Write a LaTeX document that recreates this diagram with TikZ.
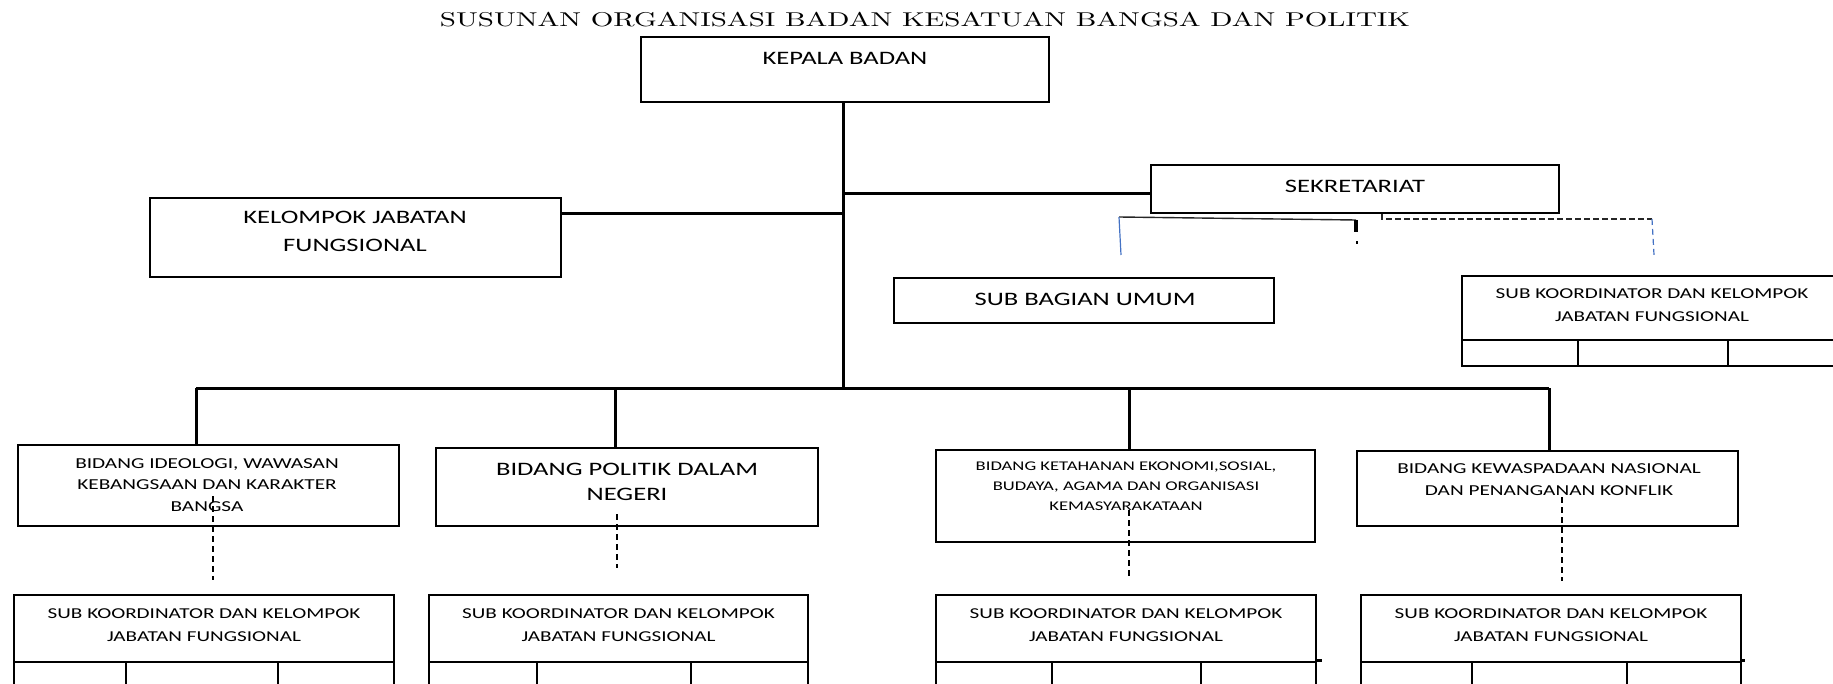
\documentclass[tikz,border=0pt]{standalone}
\usepackage{fontspec}
\newfontfamily\calfont{Carlito}
\usepackage{graphicx}
\newcommand\sx[1]{\scalebox{1.4}[1]{#1}}
\definecolor{wblue}{HTML}{4472C4}
\begin{document}
\begin{tikzpicture}[x=1pt,y=-1pt,
  box/.style={draw, rectangle, line width=2.6pt, inner sep=0pt, anchor=center},
  txt/.style={inner sep=0pt, align=center},
  bl/.style={line width=3pt},
  dsh/.style={line width=1.6pt, dash pattern=on 6pt off 4pt},
  thin/.style={line width=1.4pt, black!85},
  bthin/.style={line width=1.2pt, wblue}]
\useasboundingbox (0,0) rectangle (1833,684);
\clip (0,0) rectangle (1833,684);
\fill[white] (0,0) rectangle (1833,684);

% title
\node[txt] (title) at (925,19.5) {\resizebox{970pt}{14.3pt}{SUSUNAN ORGANISASI BADAN KESATUAN BANGSA DAN POLITIK}};

% boxes
\node[box, minimum width=408pt, minimum height=65pt] (kb) at (845,69.5) {};
\node[box, minimum width=408pt, minimum height=48pt] (sek) at (1355,189) {};
\node[box, minimum width=411pt, minimum height=79pt] (kjf) at (355.5,237.5) {};
\node[box, minimum width=380pt, minimum height=45pt] (sbu) at (1084,300.5) {};
% right sub koordinator
\node[box, minimum width=378pt, minimum height=64pt] (rsk) at (1651,308) {};
\node[box, minimum width=116pt, minimum height=26pt] (rc1) at (1520,353) {};
\node[box, minimum width=150pt, minimum height=26pt] (rc2) at (1653,353) {};
\node[box, minimum width=112pt, minimum height=26pt] (rc3) at (1784,353) {};
% bidang
\node[box, minimum width=381pt, minimum height=81pt] (b1) at (208.5,485.5) {};
\node[box, minimum width=382pt, minimum height=78pt] (b2) at (627,487) {};
\node[box, minimum width=379pt, minimum height=92pt] (b3) at (1125.5,496) {};
\node[box, minimum width=381pt, minimum height=75pt] (b4) at (1547.5,488.5) {};
% bottom sub koordinator
\node[box, minimum width=380pt, minimum height=67pt] (s1) at (204,628.5) {};
\node[box, minimum width=112pt, minimum height=58pt] (s1a) at (70,691) {};
\node[box, minimum width=152pt, minimum height=58pt] (s1b) at (202,691) {};
\node[box, minimum width=116pt, minimum height=58pt] (s1c) at (336,691) {};
\node[box, minimum width=379pt, minimum height=67pt] (s2) at (618.5,628.5) {};
\node[box, minimum width=108pt, minimum height=58pt] (s2a) at (483,691) {};
\node[box, minimum width=154pt, minimum height=58pt] (s2b) at (614,691) {};
\node[box, minimum width=117pt, minimum height=58pt] (s2c) at (749.5,691) {};
\node[box, minimum width=380pt, minimum height=67pt] (s3) at (1126,628.5) {};
\node[box, minimum width=116pt, minimum height=58pt] (s3a) at (994,691) {};
\node[box, minimum width=149pt, minimum height=58pt] (s3b) at (1126.5,691) {};
\node[box, minimum width=115pt, minimum height=58pt] (s3c) at (1258.5,691) {};
\node[box, minimum width=380pt, minimum height=67pt] (s4) at (1551,628.5) {};
\node[box, minimum width=111pt, minimum height=58pt] (s4a) at (1416.5,691) {};
\node[box, minimum width=155pt, minimum height=58pt] (s4b) at (1549.5,691) {};
\node[box, minimum width=114pt, minimum height=58pt] (s4c) at (1684,691) {};
\draw[line width=2.6pt] (s3c.north east) -- ++(5,0);
\draw[line width=2.6pt] (s4c.north east) -- ++(3,0);

% texts
\node[txt, font=\calfont\fontsize{19}{24}\selectfont] (kbt) at (845,58) {\sx{KEPALA BADAN}};
\node[txt, font=\calfont\fontsize{19}{24}\selectfont] (sekt) at (1355,186) {\sx{SEKRETARIAT}};
\node[txt, font=\calfont\fontsize{19}{28}\selectfont] (kjft) at (355,231) {\sx{KELOMPOK JABATAN}\\\sx{FUNGSIONAL}};
\node[txt, font=\calfont\fontsize{19}{24}\selectfont] (sbut) at (1085,299) {\sx{SUB BAGIAN UMUM}};
\node[txt, font=\calfont\fontsize{15.1}{23}\selectfont] (rskt) at (1652,305) {\sx{SUB KOORDINATOR DAN KELOMPOK}\\\sx{JABATAN FUNGSIONAL}};
\node[txt, font=\calfont\fontsize{15.2}{21.5}\selectfont] (b1t) at (207,485) {\sx{BIDANG IDEOLOGI, WAWASAN}\\\sx{KEBANGSAAN DAN KARAKTER}\\\sx{BANGSA}};
\node[txt, font=\calfont\fontsize{19}{24.5}\selectfont] (b2t) at (627,482) {\sx{BIDANG POLITIK DALAM}\\\sx{NEGERI}};
\node[txt, font=\calfont\fontsize{13.3}{20}\selectfont] (b3t) at (1126,486) {\sx{BIDANG KETAHANAN EKONOMI,SOSIAL,}\\\sx{BUDAYA, AGAMA DAN ORGANISASI}\\\sx{KEMASYARAKATAAN}};
\node[txt, font=\calfont\fontsize{15.2}{22}\selectfont] (b4t) at (1549,480) {\sx{BIDANG KEWASPADAAN NASIONAL}\\\sx{DAN PENANGANAN KONFLIK}};
\foreach \n/\cx in {s1t/204, s2t/618.5, s3t/1126, s4t/1551}
  \node[txt, font=\calfont\fontsize{15.1}{23}\selectfont] (\n) at (\cx,625) {\sx{SUB KOORDINATOR DAN KELOMPOK}\\\sx{JABATAN FUNGSIONAL}};

% main connectors
\coordinate (busc) at (843,388);
\coordinate (kjfj) at (843,214);
\coordinate (sekj) at (843,194);
\coordinate (t1) at (196,388);
\coordinate (t2) at (615,388);
\coordinate (t3) at (1129,388);
\coordinate (t4) at (1549,388);
\draw[bl] (kb.south -| busc) -- (busc);
\draw[bl] (sekj) -- (sekj -| sek.west);
\draw[bl] (kjfj) -- (kjfj -| kjf.east);
\draw[bl] (t1) -- (t4);
\draw[bl] (t1) -- (t1 |- b1.north);
\draw[bl] (t2) -- (t2 |- b2.north);
\draw[bl] (t3) -- (t3 |- b3.north);
\draw[bl] (t4) -- (t4 |- b4.north);

% sekretariat branches
\coordinate (ga) at (1119,217);
\coordinate (gb) at (1356,220);
\coordinate (gc) at (1121,255);
\coordinate (gd) at (1382,219);
\coordinate (ge) at (1652,219);
\coordinate (gf) at (1654,255);
\draw[thin] (ga) -- (gb);
\draw[line width=3.5pt] (gb) -- ++(0,12);
\fill (1356,241) rectangle ++(2.2,3.5);
\draw[bthin] (ga) -- (gc);
\draw[thin, dash pattern=on 6pt off 3pt] (gd |- sek.south) -- (gd) -- (ge);
\draw[bthin, dash pattern=on 6pt off 4pt] (ge) -- (gf);

% dashed links bidang -> sub koordinator
\coordinate (d1a) at (213,496); \coordinate (d1b) at (213,580);
\coordinate (d2a) at (617,514); \coordinate (d2b) at (617,568);
\coordinate (d3a) at (1129,510); \coordinate (d3b) at (1129,577);
\coordinate (d4a) at (1562,497); \coordinate (d4b) at (1562,581);
\draw[dsh] (d1a) -- (d1b);
\draw[dsh] (d2a) -- (d2b);
\draw[dsh] (d3a) -- (d3b);
\draw[dsh] (d4a) -- (d4b);
\end{tikzpicture}
\end{document}
